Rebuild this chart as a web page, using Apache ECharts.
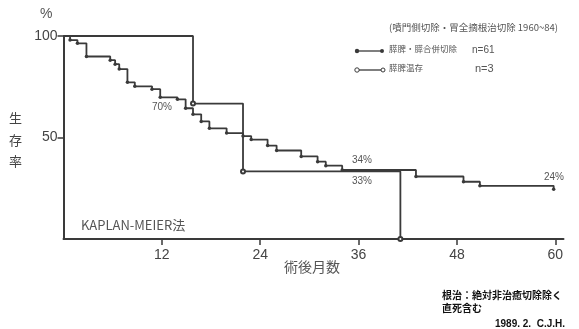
<!DOCTYPE html>
<html>
<head>
<meta charset="utf-8">
<script src="https://cdn.jsdelivr.net/npm/echarts@6/dist/echarts.min.js"></script>
<style>
html,body{margin:0;padding:0;background:#fff;}
#chart{width:579px;height:329px;}
</style>
</head>
<body>
<div id="chart"></div>
<script>
// Group 1: 膵脾・膵合併切除 n=61 (months, survival %)
const months1 = [0, 0.8, 1.7, 2.8, 5.7, 6.3, 6.8, 7.8, 8.7, 10.8, 11.8, 13.9, 14.9, 15.8, 16.8, 17.8, 19.9, 21.9, 22.9, 24.9, 26.0, 29.0, 31.0, 32.0, 34.0, 43.0, 48.8, 50.8, 59.8];
const surv1   = [100, 98.0, 96.4, 89.9, 88.1, 86.1, 83.7, 77.2, 75.2, 73.8, 69.8, 68.8, 64.4, 61.4, 57.9, 54.5, 52.2, 50.7, 49.0, 46.0, 43.6, 40.7, 38.1, 36.1, 34.0, 30.8, 28.2, 26.2, 24.5];
// Group 2: 膵脾温存 n=3
const months2 = [0, 15.8, 21.9, 41.1];
const surv2   = [100, 66.7, 33.3, 0];
// Axis ticks
const xTicks = [12, 24, 36, 48, 60];
const yTicks = [50, 100];
const seriesNames = ['膵脾・膵合併切除', '膵脾温存'];
const seriesN = ['n=61', 'n=3'];

const ink = '#3a3a3a';
const numFont = '"Liberation Sans Narrow", "Liberation Sans", Arial, sans-serif';
const jpFont = '"Noto Sans CJK JP", "Noto Sans", sans-serif';

function build(ms, ss, sym) {
  return ms.map((m, i) => ({ value: [m, ss[i]], symbol: i === 0 ? 'none' : sym }));
}

const chart = echarts.init(document.getElementById('chart'));
chart.setOption({
  animation: false,
  backgroundColor: '#fff',
  grid: { left: 63.5, right: 15.5, top: 36, bottom: 90 },
  xAxis: {
    type: 'value', min: 0, max: 61, interval: 12,
    splitLine: { show: false },
    axisLine: { lineStyle: { color: ink, width: 2 } },
    axisTick: { customValues: xTicks, length: 6, lineStyle: { color: ink, width: 1.5 } },
    axisLabel: { customValues: xTicks, color: '#444', fontFamily: numFont, fontSize: 14, margin: 9 }
  },
  yAxis: {
    type: 'value', min: 0, max: 100, interval: 50,
    splitLine: { show: false },
    axisLine: { show: true, lineStyle: { color: ink, width: 2 } },
    axisTick: { show: true, customValues: yTicks, length: 6, lineStyle: { color: ink, width: 1.5 } },
    axisLabel: { customValues: yTicks, color: '#444', fontFamily: numFont, fontSize: 14, margin: 6 }
  },
  series: [
    {
      name: seriesNames[1], type: 'line', step: 'end', clip: false,
      data: build(months2, surv2, 'emptyCircle'),
      symbolSize: 4,
      lineStyle: { color: ink, width: 1.8 },
      itemStyle: { color: ink, borderColor: ink, borderWidth: 1 },
      z: 3
    },
    {
      name: seriesNames[0], type: 'line', step: 'end', clip: false,
      data: build(months1, surv1, 'circle'),
      symbolSize: 3.5,
      lineStyle: { color: ink, width: 1.8 },
      itemStyle: { color: ink },
      z: 4
    }
  ],
  graphic: [
    { type: 'text', left: 40, top: 7, style: { text: '%', fill: '#555', font: '14px ' + numFont } },
    { type: 'text', left: 9, top: 112, style: { text: '生', fill: '#444', font: '13px ' + jpFont } },
    { type: 'text', left: 9, top: 134, style: { text: '存', fill: '#444', font: '13px ' + jpFont } },
    { type: 'text', left: 9, top: 155, style: { text: '率', fill: '#444', font: '13px ' + jpFont } },
    { type: 'text', left: 284, top: 260, style: { text: '術後月数', fill: '#555', font: '14px ' + jpFont, letterSpacing: 2.5 } },
    { type: 'text', left: 81, top: 219, style: { text: 'KAPLAN-MEIER法', fill: '#555', font: '13px ' + jpFont, letterSpacing: 0.5 } },
    { type: 'text', left: 152, top: 102, style: { text: '70%', fill: '#555', font: '10px ' + numFont } },
    { type: 'text', left: 352, top: 155, style: { text: '34%', fill: '#555', font: '10px ' + numFont } },
    { type: 'text', left: 352, top: 176, style: { text: '33%', fill: '#555', font: '10px ' + numFont } },
    { type: 'text', left: 544, top: 172, style: { text: '24%', fill: '#555', font: '10px ' + numFont } },
    // legend
    { type: 'text', left: 389, top: 23, style: { text: '(噴門側切除・胃全摘根治切除 1960~84)', fill: '#555', font: '9.5px ' + jpFont, letterSpacing: 2 } },
    { type: 'line', shape: { x1: 357, y1: 51, x2: 382, y2: 51 }, style: { stroke: ink, lineWidth: 1.3 } },
    { type: 'circle', shape: { cx: 357, cy: 51, r: 2.2 }, style: { fill: ink } },
    { type: 'circle', shape: { cx: 382, cy: 51, r: 2 }, style: { fill: ink } },
    { type: 'text', left: 389, top: 45, style: { text: seriesNames[0], fill: '#555', font: '8.5px ' + jpFont } },
    { type: 'text', left: 472, top: 45, style: { text: seriesN[0], fill: '#555', font: '10px ' + numFont } },
    { type: 'line', shape: { x1: 359, y1: 70, x2: 381, y2: 70 }, style: { stroke: ink, lineWidth: 1.3 } },
    { type: 'circle', shape: { cx: 357, cy: 70, r: 2.2 }, style: { fill: '#fff', stroke: ink, lineWidth: 1 } },
    { type: 'circle', shape: { cx: 383, cy: 70, r: 2 }, style: { fill: '#fff', stroke: ink, lineWidth: 1 } },
    { type: 'text', left: 389, top: 64, style: { text: seriesNames[1], fill: '#555', font: '8.5px ' + jpFont } },
    { type: 'text', left: 475, top: 63, style: { text: seriesN[1], fill: '#555', font: '11px ' + numFont } },
    // footnotes
    { type: 'text', left: 442, top: 290, style: { text: '根治：絶対非治癒切除除く', fill: '#111', font: 'bold 10px ' + jpFont } },
    { type: 'text', left: 442, top: 303, style: { text: '直死含む', fill: '#111', font: 'bold 10px ' + jpFont } },
    { type: 'text', left: 495, top: 319, style: { text: '1989. 2.  C.J.H.', fill: '#111', font: 'bold 10px ' + numFont } }
  ]
});
</script>
</body>
</html>
